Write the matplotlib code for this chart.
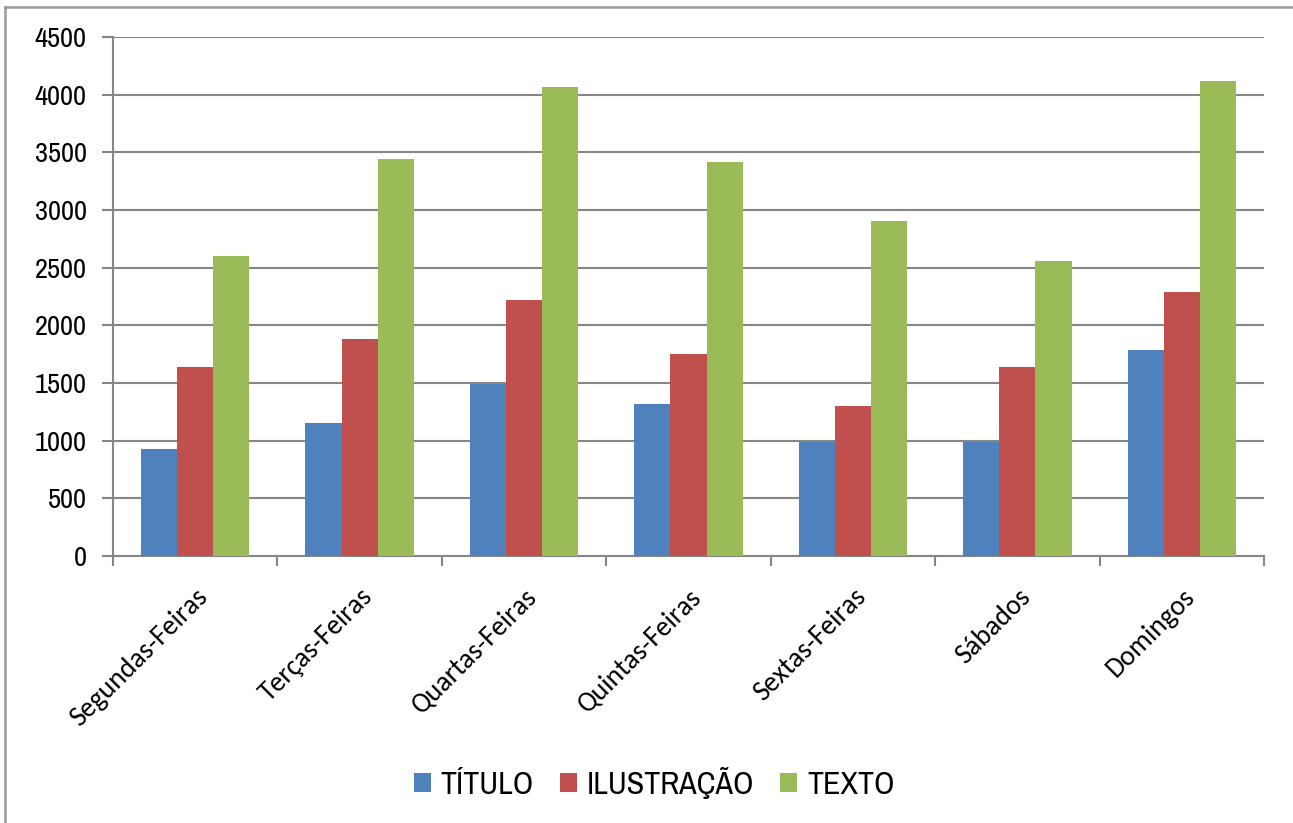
import numpy as np
import matplotlib
matplotlib.use("Agg")
import matplotlib.pyplot as plt
from matplotlib.lines import Line2D

# dados
dias = ["Segundas-Feiras", "Terças-Feiras", "Quartas-Feiras", "Quintas-Feiras",
        "Sextas-Feiras", "Sábados", "Domingos"]
titulo = [930, 1155, 1490, 1320, 985, 985, 1785]
ilustracao = [1640, 1880, 2220, 1750, 1300, 1640, 2290]
texto = [2605, 3445, 4065, 3415, 2905, 2560, 4115]

cores = ["#4F81BD", "#C0504D", "#9BBB59"]
cinza = "#868686"
fonte_num = ["Archivo Narrow", "DejaVu Sans"]

fig = plt.figure(figsize=(12.93, 8.23), dpi=100)
ax = fig.add_axes([113 / 1293, 1 - 556 / 823, (1264 - 113) / 1293, (556 - 37) / 823])

x = np.arange(len(dias))
w = 0.22
ax.bar(x - w, titulo, w, color=cores[0], label="TÍTULO", zorder=3)
ax.bar(x, ilustracao, w, color=cores[1], label="ILUSTRAÇÃO", zorder=3)
ax.bar(x + w, texto, w, color=cores[2], label="TEXTO", zorder=3)

ax.set_xlim(-0.5, len(dias) - 0.5)
ax.set_ylim(0, 4500)
ax.set_yticks(range(0, 4501, 500))
ax.yaxis.grid(True, color=cinza, linewidth=1.5, zorder=0)

ax.set_xticks(x)
ax.set_xticklabels(dias, rotation=45, ha="right", rotation_mode="anchor",
                   fontfamily=["Carlito", "DejaVu Sans"], fontsize=20)
ax.set_xticks(np.arange(-0.5, len(dias)), minor=True)
ax.tick_params(axis="x", which="major", length=0, pad=20)
ax.tick_params(axis="x", which="minor", length=7, width=1.5, color=cinza)
ax.tick_params(axis="y", length=8, width=1.5, color=cinza, pad=11)
for lab in ax.get_yticklabels():
    lab.set_fontfamily(fonte_num)
    lab.set_fontsize(20.5)

for s in ["top", "right"]:
    ax.spines[s].set_visible(False)
for s in ["left", "bottom"]:
    ax.spines[s].set_color(cinza)
    ax.spines[s].set_linewidth(1.5)

ax.legend(loc="center", bbox_to_anchor=(0.47, -0.437), ncol=3, frameon=False,
          prop={"family": fonte_num, "size": 23},
          handlelength=0.55, handleheight=0.55, handletextpad=0.3, columnspacing=0.8)

# moldura externa (só topo e esquerda aparecem)
fig.add_artist(Line2D([5 / 1293, 1], [1 - 7 / 823, 1 - 7 / 823], transform=fig.transFigure,
                      color="#9a9a9a", linewidth=1.8))
fig.add_artist(Line2D([5 / 1293, 5 / 1293], [0, 1 - 7 / 823], transform=fig.transFigure,
                      color="#9a9a9a", linewidth=1.8))

fig.savefig("out.png", dpi=100)
